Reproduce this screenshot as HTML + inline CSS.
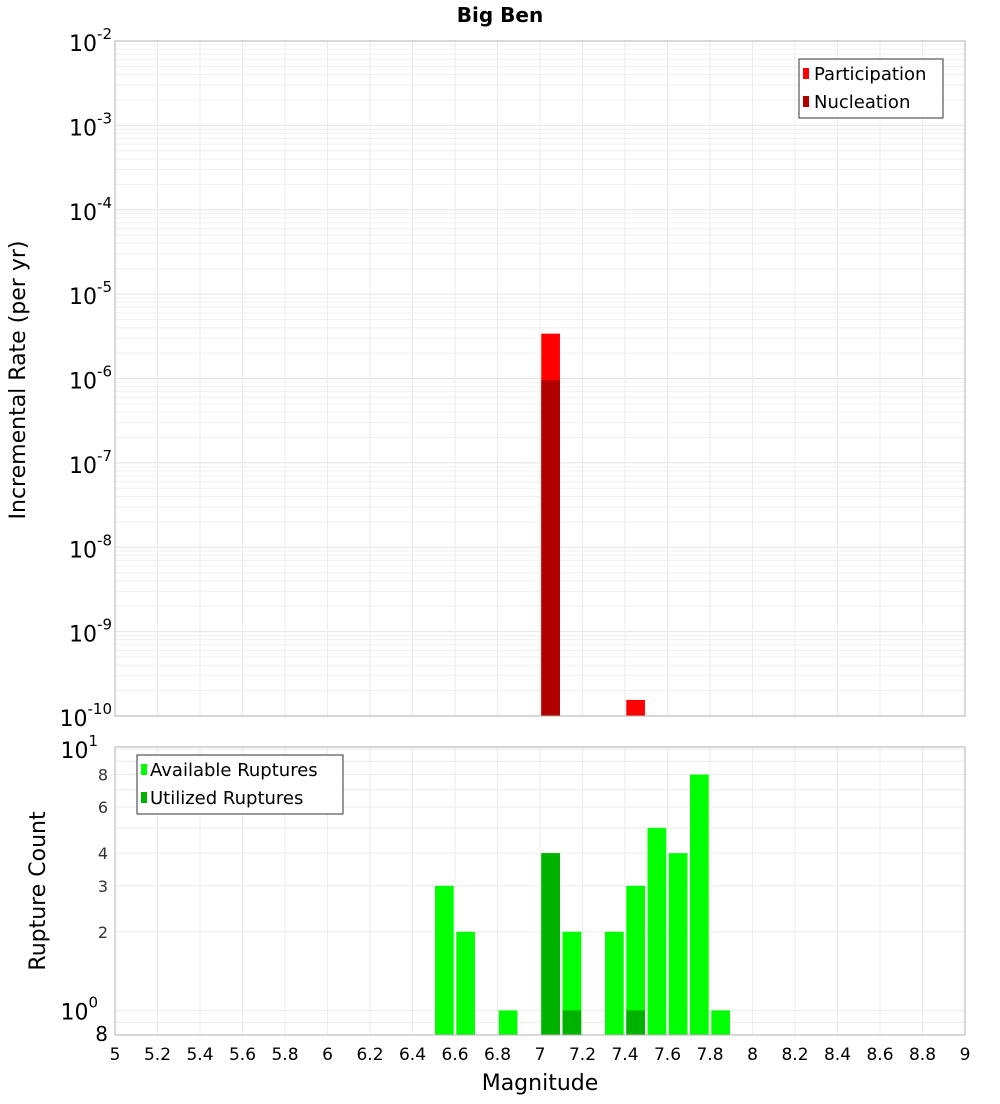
<!DOCTYPE html>
<html><head><meta charset="utf-8"><style>
body{margin:0;background:#fff;font-family:"DejaVu Sans","Liberation Sans",sans-serif;}
svg text{font-family:"DejaVu Sans","Liberation Sans",sans-serif;}
</style></head><body>
<svg id="chart" width="1000" height="1100" xmlns="http://www.w3.org/2000/svg">
<text x="500" y="22" text-anchor="middle" font-size="20" font-weight="bold">Big Ben</text>
<g id="topgrp"></g><g id="botgrp"></g>
</svg>
<script>
const binCenters=[6.55,6.65,6.85,7.05,7.15,7.35,7.45,7.55,7.65,7.75,7.85];
const availCounts=[3,2,1,4,2,2,3,5,4,8,1];
const utilCenters=[7.05,7.15,7.45];
const utilCounts=[4,1,1];
const partCenters=[7.05,7.45];
const partRates=[3.4e-6,1.55e-10];
const nuclCenters=[7.05];
const nuclRates=[9.5e-7];
const xTicks=[5,5.2,5.4,5.6,5.8,6,6.2,6.4,6.6,6.8,7,7.2,7.4,7.6,7.8,8,8.2,8.4,8.6,8.8,9];
const topExps=[-2,-3,-4,-5,-6,-7,-8,-9,-10];
const botSmallTicks=[8,6,4,3,2];

const NS="http://www.w3.org/2000/svg";
const svgEl=document.getElementById('chart');
function mk(tag,attrs,parent,text){const e=document.createElementNS(NS,tag);for(const k in attrs)e.setAttribute(k,attrs[k]);if(text!==undefined)e.textContent=text;(parent||svgEl).appendChild(e);return e;}
const X0=115,X1=965;
const xs=v=>X0+(v-5)/4*(X1-X0);
const T0=41,T1=716;
const yTop=v=>T0+(-2-Math.log10(v))/8*(T1-T0);
const B0=747,B1=1035,BMIN=0.805,BMAX=10.2;
const yBot=v=>B1-(Math.log10(v)-Math.log10(BMIN))/(Math.log10(BMAX)-Math.log10(BMIN))*(B1-B0);
const HW=0.044;
const topG=document.getElementById('topgrp'),botG=document.getElementById('botgrp');

for(let e=-10;e<-2;e++){for(let m=1;m<10;m++){const yy=yTop(m*Math.pow(10,e));const g=mk('line',{x1:X0,x2:X1,y1:yy,y2:yy,stroke:m==1?'#e4e4e4':'#f0f0f0','stroke-width':1},topG);

}}
xTicks.forEach(t=>{const g=mk('line',{x1:xs(t),x2:xs(t),y1:T0,y2:T1,stroke:'#ececec'},topG);

});
topExps.forEach(e=>{const t=mk('text',{x:112,y:yTop(Math.pow(10,e))+10,'text-anchor':'end','font-size':22},topG);


 mk('tspan',{},t,'10');mk('tspan',{dy:-12,'font-size':15},t,String(e));});
partCenters.forEach((c,i)=>{const r=mk('rect',{x:xs(c-HW),width:xs(c+HW)-xs(c-HW),y:yTop(partRates[i]),height:T1-yTop(partRates[i]),fill:'#ff0000'},topG);

});
nuclCenters.forEach((c,i)=>{const r=mk('rect',{x:xs(c-HW),width:xs(c+HW)-xs(c-HW),y:yTop(nuclRates[i]),height:T1-yTop(nuclRates[i]),fill:'#b20000'},topG);

});
const f1=mk('rect',{x:X0,y:T0,width:X1-X0,height:T1-T0,fill:'none',stroke:'#b0b0b0'},topG);


const yt=mk('text',{x:25,y:380,transform:'rotate(-90 25 380)','text-anchor':'middle','font-size':22},topG,'Incremental Rate (per yr)');


const lg=mk('g',{},topG);


mk('rect',{x:799,y:59,width:144,height:59,fill:'#fff',stroke:'#333'},lg);
mk('rect',{x:803,y:68,width:6,height:11,fill:'#ff0000'},lg);mk('text',{x:814,y:80,'font-size':18},lg,'Participation');
mk('rect',{x:803,y:96,width:6,height:11,fill:'#b20000'},lg);mk('text',{x:814,y:108,'font-size':18},lg,'Nucleation');

const minors=[0.9,1,2,3,4,5,6,7,8,9,10];
minors.forEach(v=>{const yy=yBot(v);const g=mk('line',{x1:X0,x2:X1,y1:yy,y2:yy,stroke:'#ececec'},botG);

});
xTicks.forEach(t=>{const g=mk('line',{x1:xs(t),x2:xs(t),y1:B0,y2:B1,stroke:'#ececec'},botG);


 const l=mk('text',{x:xs(t),y:1060,'text-anchor':'middle','font-size':17},botG,String(t));

});
botSmallTicks.forEach(v=>{const l=mk('text',{x:108,y:yBot(v)+6,'text-anchor':'end','font-size':16,fill:'#333'},botG,String(v));

});
[[1,0],[10,1]].forEach(p=>{const t=mk('text',{x:98,y:yBot(p[0])+9,'text-anchor':'end','font-size':22},botG);


mk('tspan',{},t,'10');mk('tspan',{dy:-12,'font-size':15},t,String(p[1]));});
const e8=mk('text',{x:108,y:1041,'text-anchor':'end','font-size':20},botG,'8');


binCenters.forEach((c,i)=>{const r=mk('rect',{x:xs(c-HW),width:xs(c+HW)-xs(c-HW),y:yBot(availCounts[i]),height:B1-yBot(availCounts[i]),fill:'#00ff00'},botG);

});
utilCenters.forEach((c,i)=>{const r=mk('rect',{x:xs(c-HW),width:xs(c+HW)-xs(c-HW),y:yBot(utilCounts[i]),height:B1-yBot(utilCounts[i]),fill:'#00b200'},botG);

});
const f2=mk('rect',{x:X0,y:B0,width:X1-X0,height:B1-B0,fill:'none',stroke:'#b0b0b0'},botG);


const yt2=mk('text',{x:45,y:891,transform:'rotate(-90 45 891)','text-anchor':'middle','font-size':22},botG,'Rupture Count');


const xt=mk('text',{x:540,y:1090,'text-anchor':'middle','font-size':22},botG,'Magnitude');


const lg2=mk('g',{},botG);


mk('rect',{x:137,y:755,width:206,height:59,fill:'#fff',stroke:'#333'},lg2);
mk('rect',{x:141,y:764,width:6,height:11,fill:'#00ff00'},lg2);mk('text',{x:150,y:776,'font-size':18},lg2,'Available Ruptures');
mk('rect',{x:141,y:792,width:6,height:11,fill:'#00b200'},lg2);mk('text',{x:150,y:804,'font-size':18},lg2,'Utilized Ruptures');
</script>
</body></html>
